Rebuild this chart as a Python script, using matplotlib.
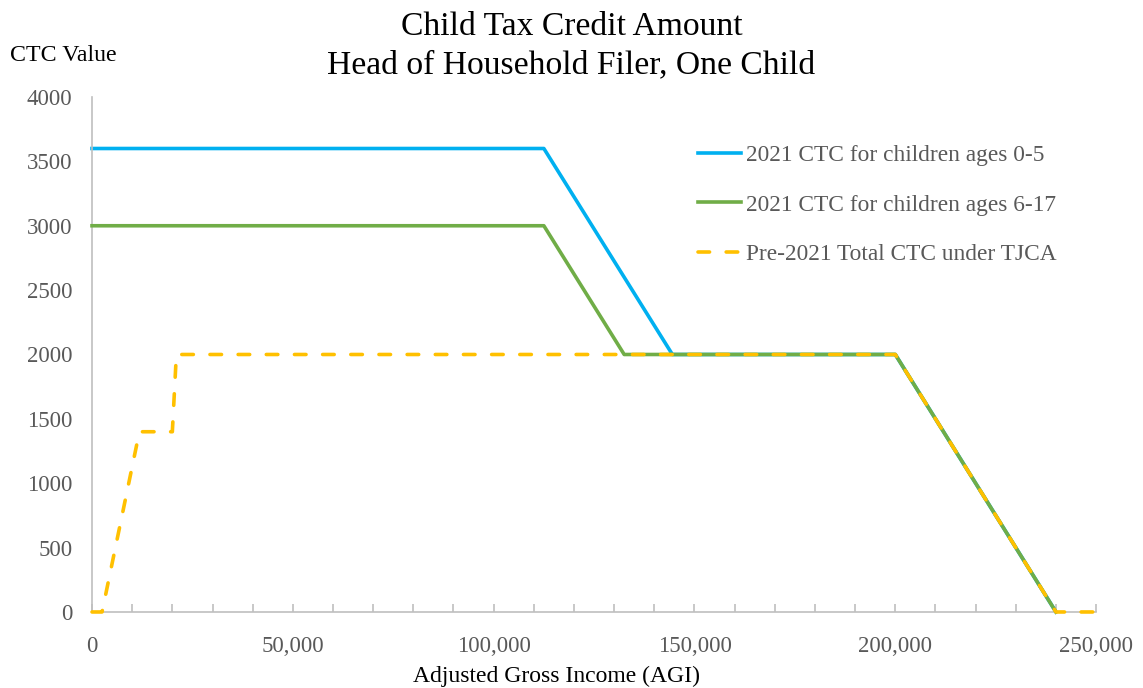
import matplotlib
matplotlib.use("Agg")
import matplotlib.pyplot as plt
from matplotlib.ticker import MultipleLocator, FuncFormatter

# Data
agi_young = [0, 112500, 144500, 200000, 240000]
ctc_young = [3600, 3600, 2000, 2000, 0]
agi_older = [0, 112500, 132500, 200000, 240000]
ctc_older = [3000, 3000, 2000, 2000, 0]
agi_tjca = [0, 2500, 11800, 20000, 21000, 200000, 240000, 250000]
ctc_tjca = [0, 0, 1400, 1400, 2000, 2000, 0, 0]

labels = ["2021 CTC for children ages 0-5",
          "2021 CTC for children ages 6-17",
          "Pre-2021 Total CTC under TJCA"]

plt.rcParams['font.family'] = ['Liberation Serif', 'DejaVu Serif']

fig = plt.figure(figsize=(11.43, 6.88), dpi=100)
ax = fig.add_axes([0.0805, 0.1105, 0.8785, 0.7485])

blue = '#00B0F0'
green = '#70AD47'
yellow = '#FFC000'
lw = 2.6

ax.plot(agi_young, ctc_young, color=blue, lw=lw, label=labels[0], zorder=2,
        solid_joinstyle='round', clip_on=False)
ax.plot(agi_older, ctc_older, color=green, lw=lw, label=labels[1], zorder=3,
        solid_joinstyle='round', clip_on=False)
ax.plot(agi_tjca, ctc_tjca, color=yellow, lw=lw, label=labels[2], zorder=4,
        linestyle=(0, (3.2, 4.6)), dash_capstyle='round', clip_on=False)

ax.set_xlim(0, 250000)
ax.set_ylim(0, 4000)
ax.xaxis.set_major_locator(MultipleLocator(50000))
ax.xaxis.set_minor_locator(MultipleLocator(10000))
ax.yaxis.set_major_locator(MultipleLocator(500))
ax.xaxis.set_major_formatter(FuncFormatter(lambda v, p: f"{int(v):,}"))

for s in ['top', 'right']:
    ax.spines[s].set_visible(False)
for s in ['left', 'bottom']:
    ax.spines[s].set_color('#BFBFBF')
    ax.spines[s].set_linewidth(1.2)

ax.tick_params(axis='x', which='both', direction='in', length=6, color='#BFBFBF',
               width=1.2, labelsize=16.5, labelcolor='#595959', pad=17)
ax.tick_params(axis='y', length=0, labelsize=16.5, labelcolor='#595959', pad=14)

ax.set_xlabel("Adjusted Gross Income (AGI)", fontsize=17, color='black')
ax.xaxis.set_label_coords(0.463, -0.126)
ax.xaxis.label.set_va('center')
fig.text(0.5, 0.983, "Child Tax Credit Amount\nHead of Household Filer, One Child",
         ha='center', va='top', fontsize=24.2, color='black', linespacing=1.34)
fig.text(0.009, 0.92, "CTC Value", ha='left', va='center', fontsize=17.2, color='black')

leg = ax.legend(loc='upper left', bbox_to_anchor=(0.594, 0.925), frameon=False,
                fontsize=16.8, handlelength=1.85, handletextpad=0.2,
                labelspacing=1.2, borderaxespad=0)
for t in leg.get_texts():
    t.set_color('#595959')

fig.savefig("out.png", dpi=100)
